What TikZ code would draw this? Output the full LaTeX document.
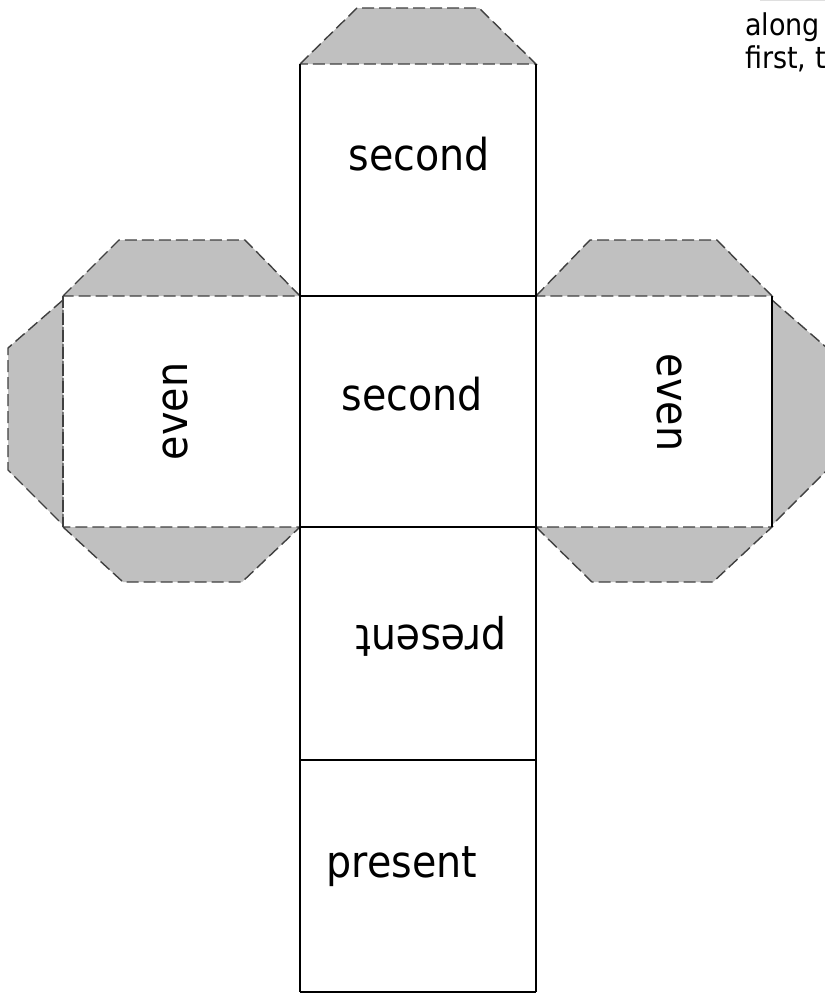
\documentclass[tikz,border=0pt]{standalone}
\usepackage{fontspec}
\setmainfont{DejaVu Sans Condensed}
\definecolor{tabfill}{RGB}{192,192,192}
\definecolor{tabline}{RGB}{64,64,64}
\begin{document}
\begin{tikzpicture}[x=1bp,y=-1bp]
\tikzset{
  tabshape/.style={fill=tabfill, draw=tabline, line width=1.4bp, dash pattern=on 12bp off 5bp, line join=miter},
  cutline/.style={draw=tabline, line width=1.4bp, dash pattern=on 12bp off 5bp},
  foldline/.style={draw=black, line width=1.4bp},
  bigtext/.style={font=\fontsize{44bp}{52bp}\selectfont, inner sep=0pt, anchor=base},
  notetext/.style={font=\fontsize{30bp}{36bp}\selectfont, inner sep=0pt, anchor=base west},
}
\useasboundingbox (0,0) rectangle (825,994);
\fill[white] (0,0) rectangle (825,994);

% corners
\coordinate (c1) at (300,64);  \coordinate (c2) at (536,64);
\coordinate (l1) at (63,296);  \coordinate (m1) at (300,296); \coordinate (m2) at (536,296); \coordinate (r1) at (772,296);
\coordinate (l2) at (63,527);  \coordinate (m3) at (300,527); \coordinate (m4) at (536,527); \coordinate (r2) at (772,527);
\coordinate (b1) at (300,760); \coordinate (b2) at (536,760);
\coordinate (e1) at (300,992); \coordinate (e2) at (536,992);

% tabs
\path[tabshape] (c1) -- (357,8) -- (479,8) -- (c2) -- cycle;
\path[tabshape] (l1) -- (119,240) -- (245,240) -- (m1) -- cycle;
\path[tabshape] (l2) -- (123,582) -- (242,582) -- (m3) -- cycle;
\path[tabshape] (63,300) -- (8,348) -- (8,470) -- (63,525) -- cycle;
\path[tabshape] (m2) -- (590,240) -- (717,240) -- (r1) -- cycle;
\path[tabshape] (m4) -- (592,582) -- (713,582) -- (r2) -- cycle;
\path[tabshape] (772,300) -- (827,348) -- (827,470) -- (772,525) -- cycle;

% outer cut edges
\path[cutline] (l1) -- (l2);

% fold / solid lines
\path[foldline] (c1) -- (e1);
\path[foldline] (c2) -- (e2);
\path[foldline] (m1) -- (m2);
\path[foldline] (m3) -- (m4);
\path[foldline] (b1) -- (b2);
\path[foldline] (e1) -- (e2);
\path[foldline] (r1) -- (r2);

% faint box edge at top right
\draw[gray!25, line width=1bp] (760,0.5) -- (825,0.5);

% labels
\node[bigtext] (topsecond) at (419,170) {second};
\node[bigtext] (midsecond) at (412.5,410) {second};
\node[bigtext, rotate=90] (lefteven) at (187,411.5) {even};
\node[bigtext, rotate=-90] (righteven) at (657,402.5) {even};
\node[bigtext, rotate=180] (flippresent) at (431,625) {present};
\node[bigtext] (botpresent) at (402,877) {present};

\node[notetext] (note1) at (745,35) {along};
\node[notetext] (note2) at (745,68) {first, t};
\end{tikzpicture}
\end{document}
